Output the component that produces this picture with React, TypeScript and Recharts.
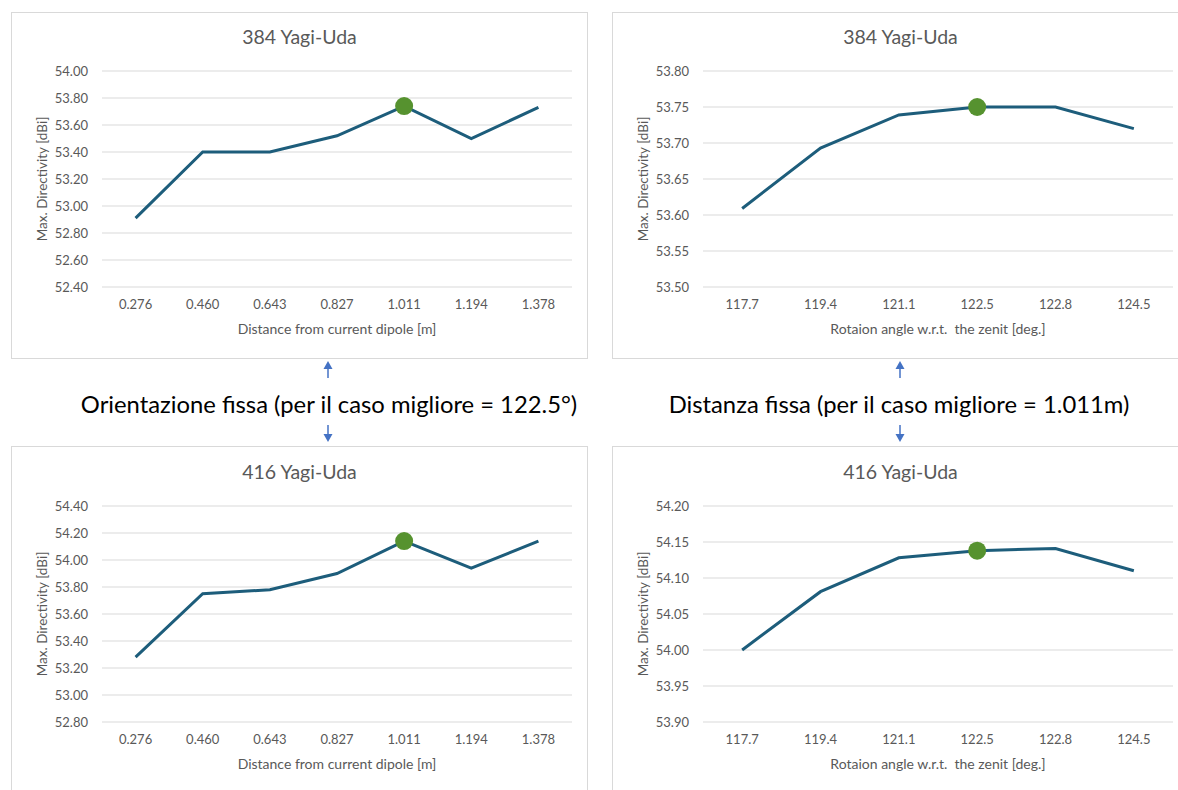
import React from 'react';
import { LineChart, Line, XAxis, YAxis, CartesianGrid } from 'recharts';

// Element distances from the current dipole [m]
const distances = ['0.276', '0.460', '0.643', '0.827', '1.011', '1.194', '1.378'];
// Rotation angles w.r.t. the zenith [deg.]
const angles = ['117.7', '119.4', '121.1', '122.5', '122.8', '124.5'];

// Max. directivity [dBi] at fixed orientation (122.5°)
const dir384ByDistance = [52.91, 53.4, 53.4, 53.52, 53.74, 53.5, 53.73];
const dir416ByDistance = [53.28, 53.75, 53.78, 53.9, 54.14, 53.94, 54.14];

// Max. directivity [dBi] at fixed distance (1.011 m)
const dir384ByAngle = [53.609, 53.693, 53.739, 53.75, 53.75, 53.72];
const dir416ByAngle = [54.0, 54.081, 54.128, 54.138, 54.141, 54.11];

// Y tick values
const ticks384Distance = [52.4, 52.6, 52.8, 53.0, 53.2, 53.4, 53.6, 53.8, 54.0];
const ticks416Distance = [52.8, 53.0, 53.2, 53.4, 53.6, 53.8, 54.0, 54.2, 54.4];
const ticks384Angle = [53.5, 53.55, 53.6, 53.65, 53.7, 53.75, 53.8];
const ticks416Angle = [53.9, 53.95, 54.0, 54.05, 54.1, 54.15, 54.2];

// Best case highlighted on each curve
const bestDistanceIndex = 4;
const bestAngleIndex = 3;

const titles = ['384 Yagi-Uda', '416 Yagi-Uda'];
const xTitleDistance = 'Distance from current dipole [m]';
const xTitleAngle = 'Rotaion angle w.r.t.  the zenit [deg.]';
const yTitle = 'Max. Directivity [dBi]';
const captionLeft = 'Orientazione fissa (per il caso migliore = 122.5°)';
const captionRight = 'Distanza fissa (per il caso migliore = 1.011m)';

const FONT = 'Lato, "Open Sans", sans-serif';
const TEXT_GREY = '#595959';
const GRID = '#d9d9d9';
const LINE_COLOR = '#1d5d7b';
const DOT_COLOR = '#56922f';
const ARROW = '#4472c4';

const PANEL_W = 577;
const CHART_H = 348;
const PLOT_LEFT = 91;
const PLOT_RIGHT = 16;
const PLOT_H = 216;
const Y_AXIS_W = 60;
const X_AXIS_H = 30;

type PanelProps = {
  left: number;
  top: number;
  boxHeight: number;
  plotTop: number;
  title: string;
  xTitle: string;
  categories: string[];
  values: number[];
  yTicks: number[];
  hiIndex: number;
};

function Panel({ left, top, boxHeight, plotTop, title, xTitle, categories, values, yTicks, hiIndex }: PanelProps) {
  const data = categories.map((c, i) => ({ x: c, y: values[i] }));
  const plotW = PANEL_W - PLOT_LEFT - PLOT_RIGHT;
  const pad = plotW / categories.length / 2;
  const bottomSpace = CHART_H - plotTop - PLOT_H;
  const plotCenterX = PLOT_LEFT + plotW / 2;

  const renderDot = (props: any) => {
    const { cx, cy, index } = props;
    if (index !== hiIndex) return <g key={`d-${index}`} />;
    return <circle key={`d-${index}`} cx={cx} cy={cy} r={9} fill={DOT_COLOR} stroke="none" />;
  };

  return (
    <div style={{ position: 'absolute', left, top, width: PANEL_W, height: boxHeight }}>
      <div
        style={{
          position: 'absolute',
          left: 0,
          top: 0,
          width: PANEL_W,
          height: boxHeight,
          boxSizing: 'border-box',
          border: `1px solid ${GRID}`,
          background: '#fff',
        }}
      />
      <div style={{ position: 'absolute', left: 0, top: 0 }}>
        <LineChart
          width={PANEL_W}
          height={CHART_H}
          data={data}
          margin={{ top: plotTop, right: PLOT_RIGHT, bottom: bottomSpace - X_AXIS_H, left: PLOT_LEFT - Y_AXIS_W }}
        >
          <CartesianGrid vertical={false} stroke={GRID} strokeWidth={1.2} />
          <XAxis
            dataKey="x"
            type="category"
            height={X_AXIS_H}
            axisLine={false}
            tickLine={false}
            tickSize={6}
            tickMargin={7}
            padding={{ left: pad, right: pad }}
            interval={0}
            tick={{ fill: TEXT_GREY, fontSize: 13, fontFamily: FONT }}
          />
          <YAxis
            type="number"
            width={Y_AXIS_W}
            domain={[yTicks[0], yTicks[yTicks.length - 1]]}
            ticks={yTicks}
            interval={0}
            axisLine={false}
            tickLine={false}
            tickSize={6}
            tickMargin={8}
            tickFormatter={(v: number) => v.toFixed(2)}
            tick={{ fill: TEXT_GREY, fontSize: 13, fontFamily: FONT }}
          />
          <Line
            type="linear"
            dataKey="y"
            stroke={LINE_COLOR}
            strokeWidth={3}
            dot={renderDot}
            activeDot={false}
            isAnimationActive={false}
          />
        </LineChart>
      </div>
      <div
        style={{
          position: 'absolute',
          left: 0,
          width: PANEL_W,
          top: plotTop - 47,
          height: 26,
          lineHeight: '26px',
          textAlign: 'center',
          fontFamily: FONT,
          fontSize: 19.5,
          color: TEXT_GREY,
        }}
      >
        {title}
      </div>
      <div
        style={{
          position: 'absolute',
          left: plotCenterX - 200,
          width: 400,
          top: plotTop + PLOT_H + 32,
          height: 20,
          lineHeight: '20px',
          textAlign: 'center',
          fontFamily: FONT,
          fontSize: 14,
          color: TEXT_GREY,
          whiteSpace: 'pre',
        }}
      >
        {xTitle}
      </div>
      <div
        style={{
          position: 'absolute',
          left: 31 - 100,
          width: 200,
          top: plotTop + PLOT_H / 2 - 9,
          height: 18,
          lineHeight: '18px',
          textAlign: 'center',
          fontFamily: FONT,
          fontSize: 13.5,
          color: TEXT_GREY,
          transform: 'rotate(-90deg)',
          transformOrigin: 'center center',
          whiteSpace: 'nowrap',
        }}
      >
        {yTitle}
      </div>
    </div>
  );
}

function Arrow({ x, y1, y2 }: { x: number; y1: number; y2: number }) {
  // y2 is the tip
  const dir = y2 > y1 ? 1 : -1;
  const headBase = y2 - dir * 8;
  return (
    <g>
      <line x1={x} y1={y1} x2={x} y2={headBase} stroke={ARROW} strokeWidth={1.5} />
      <polygon points={`${x - 4.5},${headBase} ${x + 4.5},${headBase} ${x},${y2}`} fill={ARROW} />
    </g>
  );
}

function Caption({ cx, text, size }: { cx: number; text: string; size: number }) {
  return (
    <div
      style={{
        position: 'absolute',
        left: cx - 300,
        width: 600,
        top: 389,
        height: 30,
        lineHeight: '30px',
        textAlign: 'center',
        fontFamily: FONT,
        fontSize: size,
        color: '#000',
        whiteSpace: 'nowrap',
      }}
    >
      {text}
    </div>
  );
}

export default function App() {
  return (
    <div
      style={{
        position: 'absolute',
        left: 0,
        top: 0,
        width: 1178,
        height: 790,
        overflow: 'hidden',
        background: '#fff',
      }}
    >
      <Panel
        left={11}
        top={12}
        boxHeight={347}
        plotTop={59}
        title={titles[0]}
        xTitle={xTitleDistance}
        categories={distances}
        values={dir384ByDistance}
        yTicks={ticks384Distance}
        hiIndex={bestDistanceIndex}
      />
      <Panel
        left={612}
        top={12}
        boxHeight={347}
        plotTop={59}
        title={titles[0]}
        xTitle={xTitleAngle}
        categories={angles}
        values={dir384ByAngle}
        yTicks={ticks384Angle}
        hiIndex={bestAngleIndex}
      />
      <Panel
        left={11}
        top={446}
        boxHeight={400}
        plotTop={60}
        title={titles[1]}
        xTitle={xTitleDistance}
        categories={distances}
        values={dir416ByDistance}
        yTicks={ticks416Distance}
        hiIndex={bestDistanceIndex}
      />
      <Panel
        left={612}
        top={446}
        boxHeight={400}
        plotTop={60}
        title={titles[1]}
        xTitle={xTitleAngle}
        categories={angles}
        values={dir416ByAngle}
        yTicks={ticks416Angle}
        hiIndex={bestAngleIndex}
      />
      <Caption cx={329} text={captionLeft} size={23.8} />
      <Caption cx={899} text={captionRight} size={23.8} />
      <svg
        width={1178}
        height={790}
        style={{ position: 'absolute', left: 0, top: 0, pointerEvents: 'none' }}
      >
        <Arrow x={328} y1={378} y2={361} />
        <Arrow x={328} y1={425} y2={442} />
        <Arrow x={900} y1={378} y2={361} />
        <Arrow x={900} y1={425} y2={442} />
      </svg>
    </div>
  );
}
